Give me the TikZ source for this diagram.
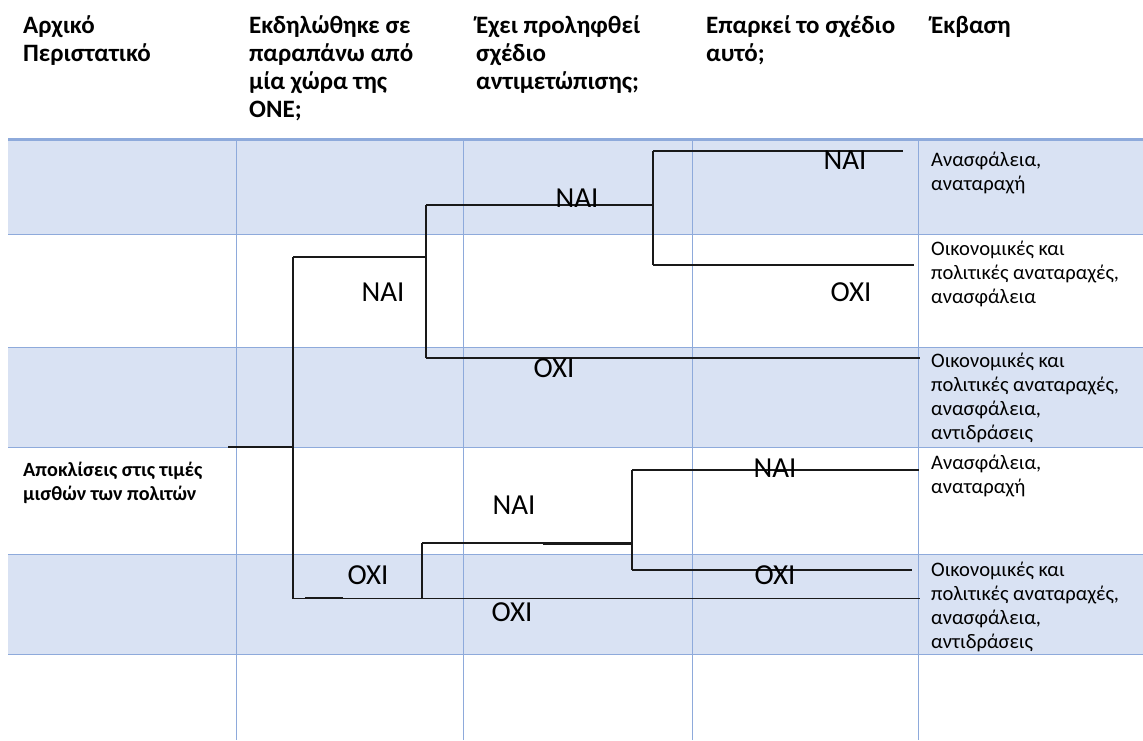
\documentclass[tikz,border=0pt]{standalone}
\usepackage{fontspec}
\setmainfont{Carlito}
\definecolor{rowshade}{HTML}{D9E2F3}
\definecolor{gridblue}{HTML}{8EAADB}
\tikzset{
  hdr/.style={anchor=north west, inner sep=0pt, align=left, font=\bfseries\fontsize{25}{28}\selectfont},
  outc/.style={anchor=north west, inner sep=0pt, align=left, font=\fontsize{20.6}{24}\selectfont},
  lbl/.style={inner sep=0pt, font=\fontsize{29}{34}\selectfont},
  branch/.style={line width=1.1pt, black!90},
  gridline/.style={line width=1pt, gridblue},
}
\begin{document}
\begin{tikzpicture}[x=1pt,y=-1pt]
\useasboundingbox (0,0) rectangle (1143,740);
% shaded rows
\foreach \a/\b in {139/234, 347/447, 554/654}
  \fill[rowshade] (8,\a) rectangle (1143,\b);
% grid
\foreach \yy in {234,347,447,554,654}
  \draw[gridline] (8,\yy) -- (1143,\yy);
\foreach \xx in {236,463,692,918}
  \draw[gridline] (\xx,139) -- (\xx,740);
\draw[gridblue, line width=3pt] (8,139) -- (1143,139);

% headers
\node[hdr] (h0) at (23,13.5) {\strut Αρχικό\\Περιστατικό};
\node[hdr] (h1) at (249,13.5) {\strut Εκδηλώθηκε σε\\παραπάνω από\\μία χώρα της\\ΟΝΕ;};
\node[hdr] (h2) at (476,13.5) {\strut Έχει προληφθεί\\σχέδιο\\αντιμετώπισης;};
\node[hdr] (h3) at (706,13.5) {\strut Επαρκεί το σχέδιο\\αυτό;};
\node[hdr] (h4) at (931,13.5) {\strut Έκβαση};

% initial event
\node[outc, font=\bfseries\fontsize{20.2}{24}\selectfont] (ev) at (23,459) {\strut Αποκλίσεις στις τιμές\\μισθών των πολιτών};

% outcomes
\node[outc] (o1) at (931,149) {\strut Ανασφάλεια,\\αναταραχή};
\node[outc] (o2) at (931,238.5) {\strut Οικονομικές και\\πολιτικές αναταραχές,\\ανασφάλεια};
\node[outc] (o3) at (931,350) {\strut Οικονομικές και\\πολιτικές αναταραχές,\\ανασφάλεια,\\αντιδράσεις};
\node[outc] (o4) at (931,452) {\strut Ανασφάλεια,\\αναταραχή};
\node[outc] (o5) at (931,559) {\strut Οικονομικές και\\πολιτικές αναταραχές,\\ανασφάλεια,\\αντιδράσεις};

% tree coordinates
\coordinate (r0) at (228,447);
\coordinate (r1) at (293,447);
\coordinate (a1) at (293,257);
\coordinate (a2) at (426,257);
\coordinate (b1) at (426,205);
\coordinate (b2) at (653,205);
\coordinate (c1) at (653,151);
\coordinate (c1e) at (903,151);
\coordinate (c2) at (653,265);
\coordinate (c2e) at (914,265);
\coordinate (b3) at (426,358);
\coordinate (b3e) at (920,358);
\coordinate (d1) at (293,598.5);
\coordinate (d2) at (422,598.5);
\coordinate (d2e) at (920,598.5);
\coordinate (e1) at (422,543);
\coordinate (e2) at (632,543);
\coordinate (f1) at (632,470);
\coordinate (f1e) at (919,470);
\coordinate (f2) at (632,570);
\coordinate (f2e) at (912,570);

\draw[branch] (r0) -- (r1);
\draw[branch] (a1) -- (d1);
\draw[branch] (a1) -- (a2);
\draw[branch] (b1) -- (b3);
\draw[branch] (b1) -- (b2);
\draw[branch] (c1) -- (c2);
\draw[branch] (c1) -- (c1e);
\draw[branch] (c2) -- (c2e);
\draw[branch] (b3) -- (b3e);
\draw[branch] (d1) -- (d2e);
\draw[branch] (e1) -- (d2);
\draw[branch] (e1) -- (e2);
\draw[branch] (f1) -- (f2);
\draw[branch] (f1) -- (f1e);
\draw[branch] (f2) -- (f2e);
% overlapping short strokes
\draw[branch] (329,256.2) -- (358,256.2);
\draw[branch] (512,204.2) -- (530,204.2);
\draw[branch] (305,597.7) -- (343,597.7);
\draw[branch] (543,544) -- (633,544);

% branch labels
\node[lbl] (n1) at (383,292) {ΝΑΙ};
\node[lbl] (n2) at (577,198) {ΝΑΙ};
\node[lbl] (n3) at (845,160) {ΝΑΙ};
\node[lbl] (x1) at (851,292) {ΟΧΙ};
\node[lbl] (x2) at (554,368) {ΟΧΙ};
\node[lbl] (n4) at (514,505) {ΝΑΙ};
\node[lbl] (x3) at (368,575) {ΟΧΙ};
\node[lbl] (x4) at (512,612) {ΟΧΙ};
\node[lbl] (n5) at (775,468) {ΝΑΙ};
\node[lbl] (x5) at (775,575) {ΟΧΙ};
\end{tikzpicture}
\end{document}
